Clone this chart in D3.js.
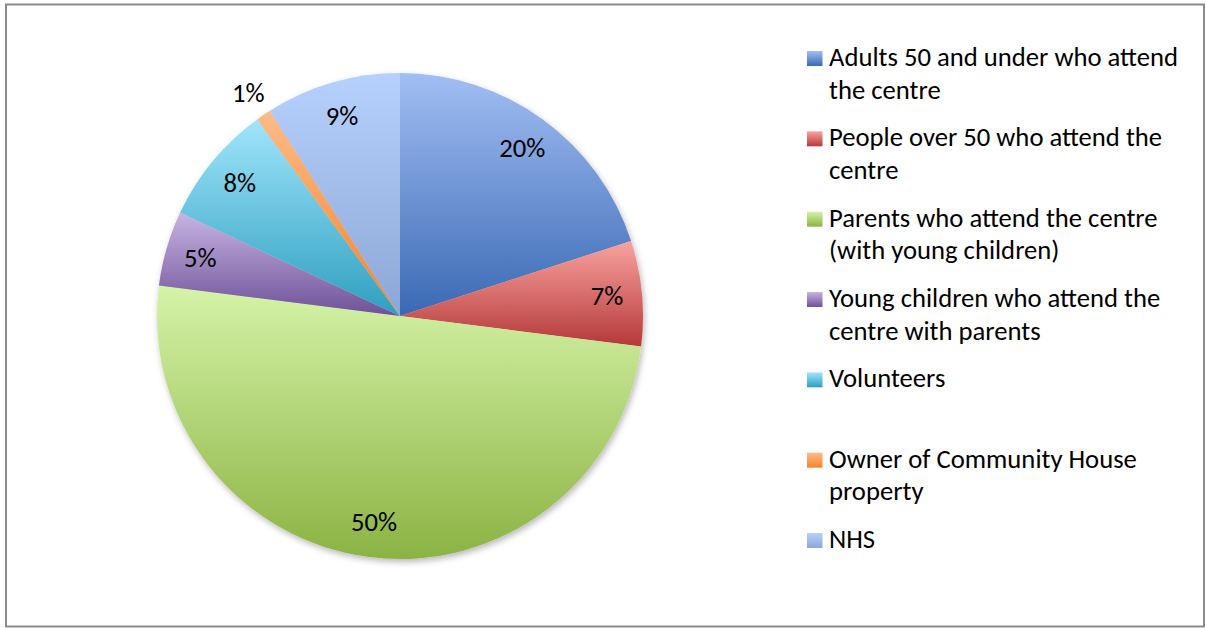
<!DOCTYPE html>
<html>
<head>
<meta charset="utf-8">
<script src="https://cdn.jsdelivr.net/npm/d3@7"></script>
<style>
  html, body { margin: 0; padding: 0; background: #fff; }
  svg { display: block; }
  text { font-family: Carlito, Calibri, Lato, "Open Sans", sans-serif; fill: #000; }
</style>
</head>
<body>
<svg id="chart" width="1206" height="628"></svg>
<script>
// Stakeholder groups and their share (%)
const categories = [
  "Adults 50 and under who attend the centre",
  "People over 50 who attend the centre",
  "Parents who attend the centre (with young children)",
  "Young children who attend the centre with parents",
  "Volunteers",
  "Owner of Community House property",
  "NHS"
];
const values = [20, 7, 50, 5, 8, 1, 9];
const percentLabels = ["20%", "7%", "50%", "5%", "8%", "1%", "9%"];

// Gradient stops per slice: light at top, darker at bottom
const topColors    = ["#a2bef4", "#f9a39f", "#d6f3a8", "#c7b4e2", "#a0e5fc", "#fdbb88", "#b7d1fe"];
const bottomColors = ["#3a69b3", "#b5393a", "#8bb343", "#6e5198", "#2e9fbe", "#f3842a", "#8ca7d5"];

const svg = d3.select("#chart");
const W = 1206, H = 628;
const cx = 400, cy = 316, R = 243;

// outer frame
svg.append("rect")
  .attr("x", 6).attr("y", 4.5).attr("width", 1198).attr("height", 622)
  .attr("fill", "#fff").attr("stroke", "#8a8a8a").attr("stroke-width", 2);

const defs = svg.append("defs");
values.forEach((v, i) => {
  const g = defs.append("linearGradient")
    .attr("id", "grad" + i).attr("x1", 0).attr("y1", 0).attr("x2", 0).attr("y2", 1);
  g.append("stop").attr("offset", "0%").attr("stop-color", topColors[i]);
  g.append("stop").attr("offset", "100%").attr("stop-color", bottomColors[i]);
});
const shadow = defs.append("filter").attr("id", "pieShadow")
  .attr("x", "-10%").attr("y", "-10%").attr("width", "120%").attr("height", "120%");
shadow.append("feDropShadow")
  .attr("dx", 1.5).attr("dy", 3).attr("stdDeviation", 3)
  .attr("flood-color", "#000").attr("flood-opacity", 0.28);

// fit the label font to the Calibri 20pt metrics of the longest legend line
const probe = svg.append("text").attr("font-size", 100).text("Adults 50 and under who attend");
const fontSize = 100 * 349 / probe.node().getComputedTextLength();
probe.remove();

const pie = d3.pie().sort(null).value(d => d);
const arcs = pie(values);
const arc = d3.arc().innerRadius(0).outerRadius(R);

const pieG = svg.append("g").attr("transform", `translate(${cx},${cy})`);
pieG.append("g").attr("filter", "url(#pieShadow)")
  .selectAll("path").data(arcs).join("path")
  .attr("d", arc)
  .attr("fill", (d, i) => `url(#grad${i})`);

// data labels: inside the slice, or just outside for very thin slices
const inArc = d3.arc().innerRadius(208).outerRadius(208);
const outArc = d3.arc().innerRadius(270).outerRadius(270);
pieG.selectAll("text.pct").data(arcs).join("text")
  .attr("class", "pct")
  .attr("font-size", fontSize)
  .attr("text-anchor", "middle")
  .attr("dominant-baseline", "central")
  .attr("transform", d => {
    const c = (d.data < 2 ? outArc : inArc).centroid(d);
    return `translate(${c[0]},${c[1]})`;
  })
  .text((d, i) => percentLabels[i]);

// legend
const legX = 807, legTextX = 829, firstBase = 66, slot = 80.33, lineH = 32.6, maxW = 356, sw = 15;
const leg = svg.append("g");
categories.forEach((name, i) => {
  const base = firstBase + i * slot;
  leg.append("rect")
    .attr("x", legX).attr("y", base - sw).attr("width", sw + 0.5).attr("height", sw)
    .attr("fill", `url(#grad${i})`);
  const t = leg.append("text").attr("font-size", fontSize).attr("x", legTextX).attr("y", base);
  // greedy word wrap
  const words = name.split(" ");
  let line = [], lineNo = 0;
  let tspan = t.append("tspan").attr("x", legTextX).attr("y", base);
  words.forEach(w => {
    line.push(w);
    tspan.text(line.join(" "));
    if (tspan.node().getComputedTextLength() > maxW && line.length > 1) {
      line.pop();
      tspan.text(line.join(" "));
      line = [w];
      lineNo++;
      tspan = t.append("tspan").attr("x", legTextX).attr("y", base + lineNo * lineH).text(w);
    }
  });
});
</script>
</body>
</html>
